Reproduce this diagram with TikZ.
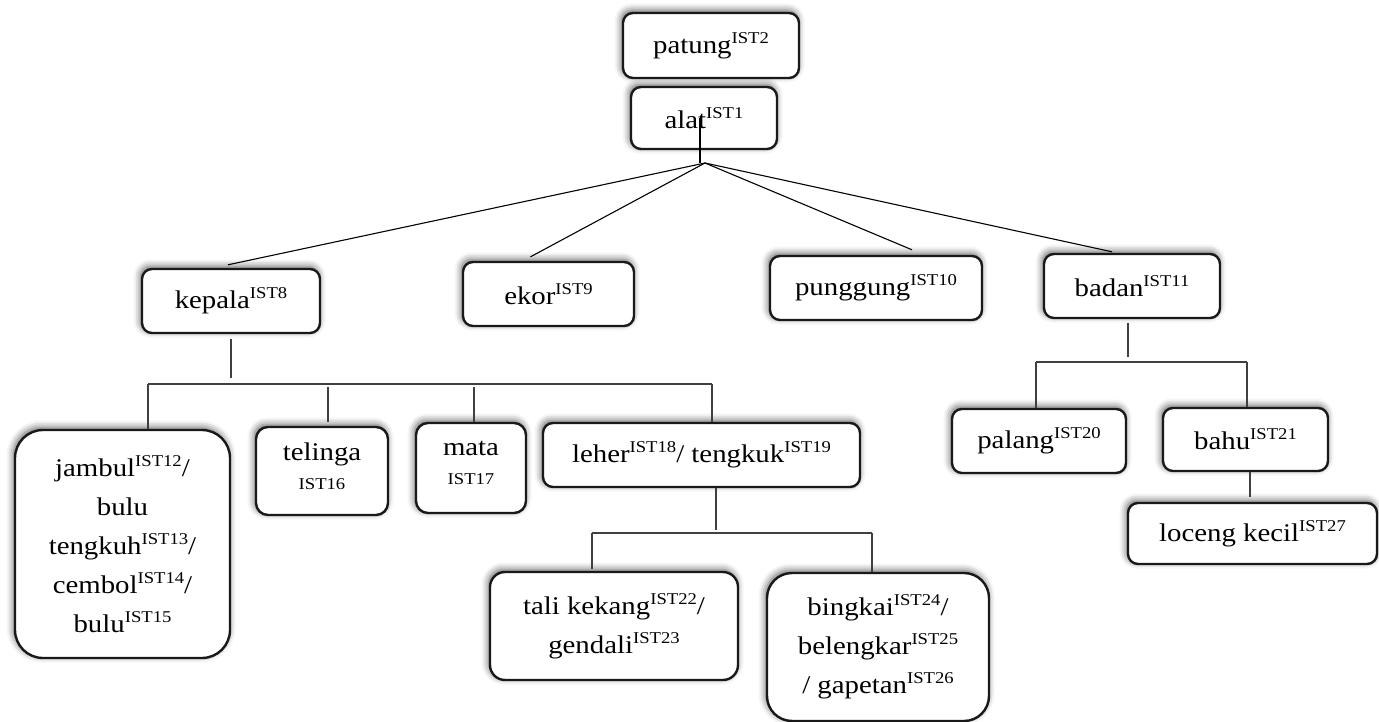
\documentclass[tikz,border=0pt]{standalone}
\usepackage{fontspec}
\setmainfont{Liberation Serif}[FakeStretch=1.13]
\usepackage{tikz}
\usetikzlibrary{calc,shadows.blur}
\newcommand{\ist}[1]{\raisebox{10pt}{\fontsize{16.5}{16.5}\selectfont IST#1}}
\tikzset{
  box/.style={draw=black!90, line width=2.4pt, rounded corners=10pt, fill=white, align=center,
    inner sep=3pt, font=\fontsize{25.5}{39}\selectfont,
    blur shadow={shadow xshift=-1.5pt, shadow yshift=2.5pt, shadow blur radius=7pt, shadow opacity=65}},
  bigbox/.style={box, rounded corners=28pt},
  link/.style={black, line width=1.1pt},
  stem/.style={black!75, line width=1.3pt}
}

\begin{document}
\begin{tikzpicture}[x=1pt, y=-1pt]
    \useasboundingbox (0,0) rectangle (1379,722);
    \node[box, minimum width=176, minimum height=65] (patung) at (711,45.5) {patung\ist{2}};
    \node[box, minimum width=146, minimum height=62] (alat) at (704,118) {alat\ist{1}};

    \node[box, minimum width=178, minimum height=64] (kepala) at (231,301) {kepala\ist{8}};
    \node[box, minimum width=171, minimum height=64] (ekor) at (548.5,294) {ekor\ist{9}};
    \node[box, minimum width=212, minimum height=64] (punggung) at (876,288) {punggung\ist{10}};
    \node[box, minimum width=176, minimum height=64] (badan) at (1132,286) {badan\ist{11}};

    \node[bigbox, minimum width=215, minimum height=228] (jambul) at (122.5,544)
      {jambul\ist{12}/\\ bulu\\ tengkuh\ist{13}/\\ cembol\ist{14}/\\ bulu\ist{15}};
    \node[box, rounded corners=12pt, minimum width=132, minimum height=88] (telinga) at (322,471) {telinga\\\ist{16}};
    \node[box, rounded corners=12pt, minimum width=110, minimum height=90] (mata) at (471,468) {mata\\\ist{17}};
    \node[box, minimum width=317, minimum height=64] (leher) at (701.5,455) {leher\ist{18}/ tengkuk\ist{19}};

    \node[box, rounded corners=15pt, minimum width=248, minimum height=108] (tali) at (614,626)
      {tali kekang\ist{22}/\\ gendali\ist{23}};
    \node[bigbox, rounded corners=25pt, minimum width=222, minimum height=148] (bingkai) at (878,647)
      {bingkai\ist{24}/\\ belengkar\ist{25}\\ / gapetan\ist{26}};

    \node[box, minimum width=174, minimum height=64] (palang) at (1039,441) {palang\ist{20}};
    \node[box, minimum width=165, minimum height=63] (bahu) at (1245.5,439.5) {bahu\ist{21}};
    \node[box, minimum width=249, minimum height=61] (loceng) at (1252.5,533.5) {loceng kecil\ist{27}};

    % fan from alat
    \coordinate (jn) at (705,163);
    \draw[link] (alat.center) ++(-4,0) -- ++(0,45);
    \draw[link] (jn) -- ($(kepala.north)+(-3,-3)$);
    \draw[link] (jn) -- ($(ekor.north)+(-18,-4)$);
    \draw[link] (jn) -- ($(punggung.north)+(36,-5)$);
    \draw[link] (jn) -- ($(badan.north)+(-20,-1)$);

    % kepala branch
    \coordinate (kL) at (148,384);
    \coordinate (kR) at (712,384);
    \draw[stem, shorten <=5pt, shorten >=6pt] (kepala.south) -- (kepala.south |- kL);
    \draw[stem] (kL) -- (kR);
    \draw[stem] (kL) -- (kL |- jambul.north);
    \draw[stem, shorten <=3pt] ($(kL -| telinga.north)+(6,0)$) -- ($(telinga.north)+(6,-4)$);
    \draw[stem, shorten <=3pt] ($(kL -| mata.north)+(3,0)$) -- ($(mata.north)+(3,0)$);
    \draw[stem] (kR) -- (kR |- leher.north);

    % leher branch
    \coordinate (lL) at (592,533);
    \coordinate (lR) at (872,533);
    \draw[stem, shorten >=3pt] ($(leher.south)+(14.5,0)$) -- ($(leher.south |- lL)+(14.5,0)$);
    \draw[stem] (lL) -- (lR);
    \draw[stem] (lL) -- ($(lL |- tali.north)+(0,-2)$);
    \draw[stem] (lR) -- (lR |- bingkai.north);

    % badan branch
    \coordinate (bL) at (1036,362);
    \coordinate (bR) at (1247,362);
    \draw[stem, shorten <=4pt, shorten >=5pt] ($(badan.south)+(-4,0)$) -- ($(badan.south |- bL)+(-4,0)$);
    \draw[stem] (bL) -- (bR);
    \draw[stem] (bL) -- (bL |- palang.north);
    \draw[stem] (bR) -- (bR |- bahu.north);
    \draw[stem, shorten >=5pt] ($(bahu.south)+(4.5,0)$) -- ($(loceng.north)+(-2.5,0)$);
  \end{tikzpicture}
\end{document}
